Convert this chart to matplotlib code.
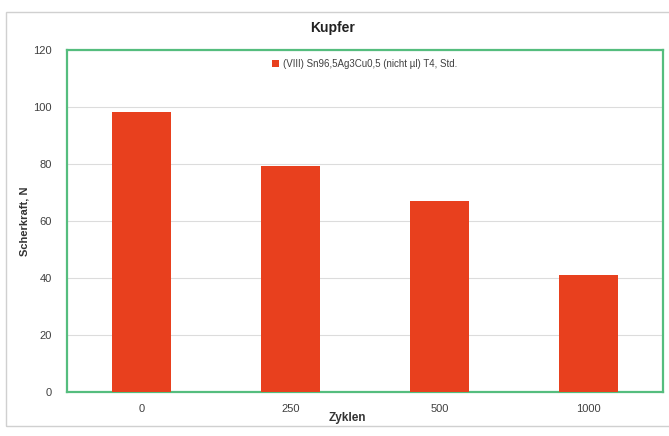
from matplotlib import pyplot as plt
from matplotlib.patches import Rectangle

zyklen = ['0', '250', '500', '1000']
scherkraft = [98.3, 79.2, 67.1, 41.0]
serie = '(VIII) Sn96,5Ag3Cu0,5 (nicht µl) T4, Std.'

plt.rcParams['font.family'] = ['Liberation Sans', 'DejaVu Sans']

fig = plt.figure(figsize=(6.69, 4.36), dpi=100)
ax = fig.add_axes([0.100, 0.101, 0.891, 0.784])

# outer chart border
fig.patches.append(Rectangle((0.009, 0.022), 1.2, 0.951, transform=fig.transFigure,
                             fill=False, edgecolor='#d0d0d0', lw=1.0))

x = range(len(zyklen))
ax.bar(x, scherkraft, width=0.4, color='#e8401e', label=serie, zorder=3)

ax.set_xlim(-0.5, 3.5)
ax.set_ylim(0, 120)
ax.set_yticks(range(0, 121, 20))
ax.set_xticks(list(x))
ax.set_xticklabels(zyklen)
ax.grid(axis='y', color='#dcdcdc', lw=0.8, zorder=0)
ax.tick_params(length=0, labelsize=8, labelcolor='#404040', pad=9)
ax.tick_params(axis='y', pad=11)
for s in ax.spines.values():
    s.set_color('#55bd7e')
    s.set_linewidth(1.6)

ax.set_xlabel('Zyklen', fontsize=8.5, fontweight='bold', color='#333333', labelpad=1)
ax.xaxis.set_label_coords(0.47, -0.06)
ax.set_ylabel('Scherkraft, N', fontsize=8, fontweight='bold', color='#333333')
ax.yaxis.set_label_coords(-0.062, 0.5)
fig.text(0.497, 0.935, 'Kupfer', ha='center', va='center', fontsize=10,
         fontweight='bold', color='#222222')

ax.legend(loc='upper center', bbox_to_anchor=(0.5, 1.0), frameon=False, fontsize=7,
          handlelength=0.7, handleheight=0.7, handletextpad=0.4, labelcolor='#404040')

plt.savefig('out.png', dpi=100)
